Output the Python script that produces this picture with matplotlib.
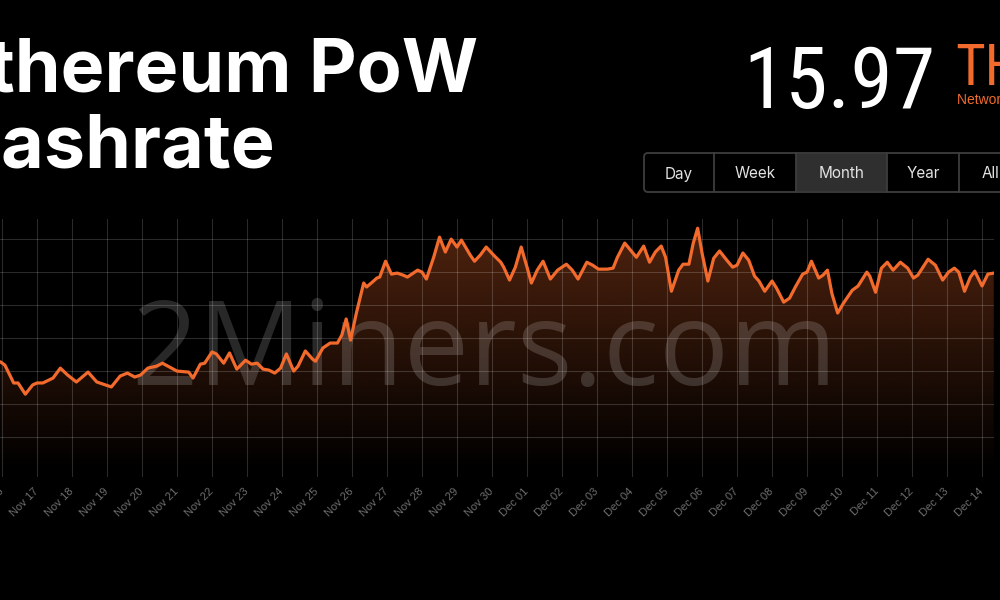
import numpy as np
import matplotlib
matplotlib.use("Agg")
import matplotlib.pyplot as plt
from matplotlib import font_manager
from matplotlib.patches import FancyBboxPatch, Rectangle

# hours since Nov 16 00:00, network hashrate in TH/s
hours = [-1, 2, 8, 11, 16, 21, 24, 28, 35, 40, 45, 51, 59, 65, 75, 81, 86, 91, 95,
         100, 106, 110, 115, 120, 128, 131, 136, 139, 144, 147, 152, 156, 161, 167,
         171, 175, 179, 183, 187, 191, 195, 200, 203, 208, 213, 215, 220, 225, 230,
         233, 236, 239, 243, 248, 250, 254, 257, 259, 263, 267, 271, 275, 278, 285,
         288, 291, 296, 300, 304, 308, 312, 315, 321, 324, 328, 332, 337, 342, 344,
         348, 352, 356, 360, 363, 367, 371, 376, 381, 387, 391, 395, 401, 405, 409,
         415, 419, 422, 427, 432, 435, 440, 444, 448, 452, 455, 459, 464, 467, 471,
         474, 477, 480, 484, 488, 492, 497, 501, 504, 508, 512, 516, 519, 523, 528,
         531, 536, 540, 544, 549, 552, 555, 560, 563, 566, 569, 573, 577, 583, 587,
         593, 595, 599, 603, 607, 611, 616, 621, 625, 628, 635, 640, 645, 649, 653,
         656, 660, 664, 667, 672, 676, 680]
hashrate = [13.28, 13.18, 12.64, 12.64, 12.30, 12.58, 12.64, 12.64, 12.79, 13.09,
            12.88, 12.67, 12.97, 12.67, 12.52, 12.85, 12.94, 12.82, 12.88, 13.09,
            13.15, 13.24, 13.12, 13.00, 12.97, 12.79, 13.21, 13.24, 13.58, 13.52,
            13.24, 13.55, 13.06, 13.33, 13.21, 13.24, 13.06, 13.03, 12.94, 13.09,
            13.52, 13.00, 13.15, 13.61, 13.36, 13.30, 13.70, 13.85, 13.85, 14.09,
            14.58, 13.94, 14.76, 15.67, 15.55, 15.70, 15.82, 15.85, 16.33, 15.94,
            15.97, 15.91, 15.85, 16.06, 16.00, 15.79, 16.45, 17.06, 16.61, 17.00,
            16.76, 16.97, 16.52, 16.33, 16.52, 16.76, 16.52, 16.30, 16.15, 15.76,
            16.15, 16.76, 16.15, 15.67, 16.06, 16.33, 15.79, 16.06, 16.24, 16.06,
            15.79, 16.30, 16.21, 16.09, 16.09, 16.12, 16.45, 16.88, 16.61, 16.45,
            16.79, 16.30, 16.61, 16.79, 16.45, 15.42, 16.06, 16.24, 16.24, 16.88,
            17.33, 16.58, 15.73, 16.42, 16.64, 16.36, 16.15, 16.21, 16.58, 16.36,
            15.88, 15.73, 15.42, 15.73, 15.52, 15.09, 15.21, 15.55, 15.94, 16.00,
            16.33, 15.82, 15.91, 16.06, 15.36, 14.76, 15.06, 15.45, 15.58, 16.00,
            15.88, 15.39, 16.12, 16.30, 16.06, 16.30, 16.12, 15.82, 15.91, 16.39,
            16.21, 15.76, 16.00, 16.12, 16.00, 15.42, 15.85, 16.03, 15.58, 15.94,
            15.97]

day_labels = [f"Nov {d}" for d in range(16, 31)] + [f"Dec {d:02d}" for d in range(1, 15)]
day_ticks = [24 * i for i in range(len(day_labels))]
grid_levels = [11, 12, 13, 14, 15, 16, 17]
ranges = ["Day", "Week", "Month", "Year", "All"]
current = "15.97"

ORANGE = "#f26a2c"
W, H = 1000, 600
installed = {f.name for f in font_manager.fontManager.ttflist}
NARROW = [f for f in ["Roboto Condensed", "Liberation Sans Narrow",
                      "DejaVu Sans Condensed", "Roboto"] if f in installed] or ["DejaVu Sans"]

fig = plt.figure(figsize=(10, 6), dpi=100, facecolor="black")

# chart area: pixel 0..994 wide, 219..477 tall
ax = fig.add_axes([0, 1 - 477 / H, 994 / W, (477 - 219) / H])
ax.set_facecolor("black")
x0, x1 = -1.37, 680.2
y0, y1 = 9.79, 17.61

poly = ax.fill_between(hours, hashrate, y0 - 1, color="none", lw=0)
grad = np.zeros((256, 1, 4))
grad[:, 0, 0:3] = matplotlib.colors.to_rgb(ORANGE)
grad[:, 0, 3] = np.linspace(0.0, 0.38, 256) ** 1.1
img = ax.imshow(grad, extent=[x0, x1, y0, y1], origin="lower", aspect="auto", zorder=1)
img.set_clip_path(poly.get_paths()[0], transform=ax.transData)

ax.plot(hours, hashrate, color=ORANGE, lw=2.3, solid_joinstyle="round",
        solid_capstyle="round", zorder=3)

ax.set_xlim(x0, x1)
ax.set_ylim(y0, y1)
ax.set_xticks(day_ticks)
ax.set_xticklabels(day_labels, rotation=45, ha="right", va="center",
                   rotation_mode="anchor", fontsize=8, color="#6e6e6e",
                   family="Liberation Sans")
ax.set_yticks(grid_levels)
ax.tick_params(length=0, labelleft=False, pad=9)
ax.grid(True, color="white", alpha=0.17, lw=0.8)
for s in ax.spines.values():
    s.set_visible(False)

ax.text(0.487, 0.355, "2Miners.com", transform=ax.transAxes, ha="center",
        va="baseline", fontsize=84, family="Open Sans", color="white",
        alpha=0.16, zorder=2)

# overlay in pixel coordinates for the header
ov = fig.add_axes([0, 0, 1, 1])
ov.set_xlim(0, W)
ov.set_ylim(H, 0)
ov.axis("off")
ov.patch.set_alpha(0)

ov.text(478, 92, "Ethereum PoW", ha="right", va="baseline", fontsize=53,
        fontweight="bold", family="Inter", color="white")
ov.text(275, 167, "Hashrate", ha="right", va="baseline", fontsize=53,
        fontweight="bold", family="Inter", color="white")

big = ov.text(935, 108, current, ha="right", va="baseline", fontsize=76,
              family=NARROW, color="white")
ov.text(955, 84, "TH/s", ha="left", va="baseline", fontsize=41,
        family=NARROW, color=ORANGE)
ov.text(957, 104, "Network Hashrate", ha="left", va="baseline", fontsize=10,
        family="Liberation Sans", color=ORANGE)

# no condensed face as narrow as the reference: keep the width within reason
r = fig.canvas.get_renderer()
wpx = big.get_window_extent(r).width
if wpx > 192:
    big.set_fontsize(76 * 192 / wpx)

# range buttons
edges = [644, 714, 796, 887, 959, 1040]
ov.add_patch(FancyBboxPatch((edges[0], 153), edges[-1] - edges[0], 39,
                            boxstyle="round,pad=0,rounding_size=4",
                            fc="black", ec="#3d3d3d", lw=1.3))
ov.add_patch(Rectangle((edges[2], 154), edges[3] - edges[2], 37, fc="#2f2f2f", ec="none"))
for xe in edges[1:-1]:
    ov.plot([xe, xe], [153, 192], color="#3d3d3d", lw=1.3)
for i, name in enumerate(ranges):
    cx = (edges[i] + edges[i + 1]) / 2 if i < 4 else 990
    ov.text(cx, 174, name, ha="center", va="center", fontsize=11,
            family="Inter", color="#e2e2e2")

fig.savefig("out.png", dpi=100, facecolor="black")
